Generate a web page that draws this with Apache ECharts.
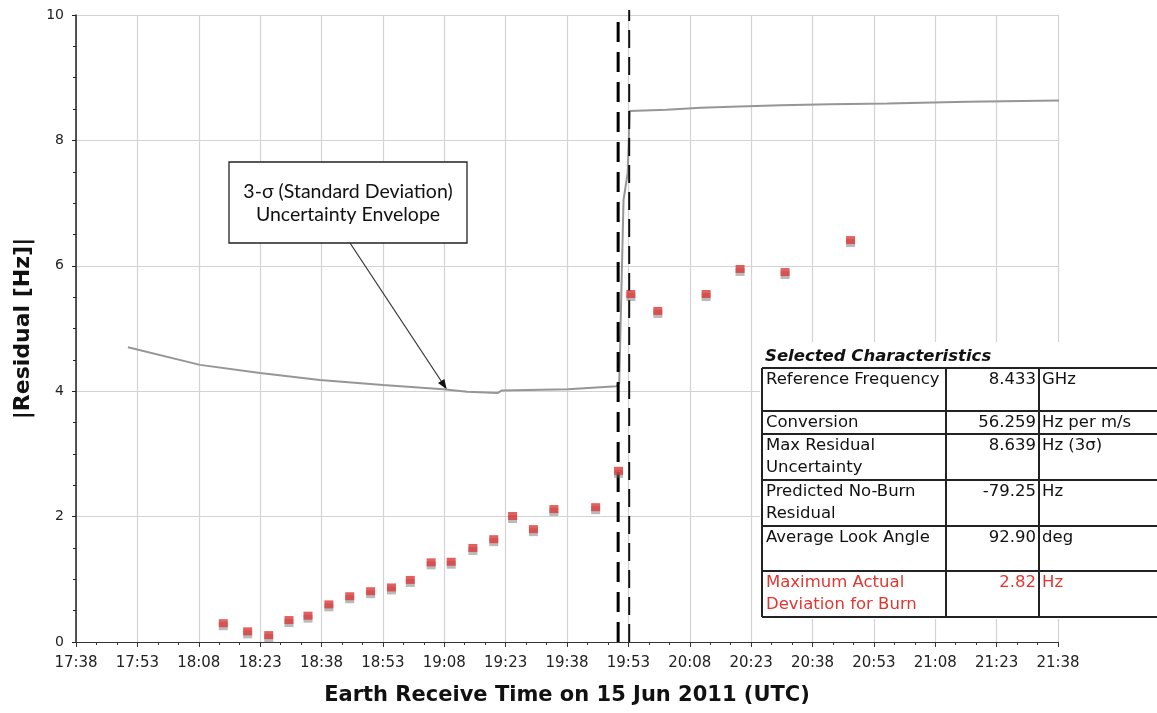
<!DOCTYPE html>
<html>
<head>
<meta charset="utf-8">
<script src="https://cdn.jsdelivr.net/npm/echarts@6/dist/echarts.min.js"></script>
<style>
  html, body { margin: 0; padding: 0; background: #fff; }
  #chart { width: 1157px; height: 713px; }
</style>
</head>
<body>
<div id="chart"></div>
<script>
// ---------- data ----------
const axisStart = '17:38';
const axisEnd = '21:38';
const tickStepMinutes = 15;
const yTicks = [0, 2, 4, 6, 8, 10];

// Doppler residual magnitude per tracking pass [Hz]
const residualTimes = [
  '18:14:00', '18:19:57', '18:25:06', '18:30:03', '18:34:42', '18:39:48',
  '18:44:54', '18:50:00', '18:55:06', '18:59:42', '19:04:48', '19:09:42',
  '19:15:00', '19:20:06', '19:24:42', '19:29:48', '19:34:48', '19:45:00',
  '19:50:36', '19:53:36', '20:00:12', '20:12:00', '20:20:18', '20:31:18',
  '20:47:18'
];
const residualValues = [
  0.30, 0.17, 0.11, 0.35, 0.42, 0.60,
  0.73, 0.81, 0.87, 0.99, 1.27, 1.28,
  1.50, 1.64, 2.01, 1.80, 2.12, 2.15,
  2.73, 5.55, 5.28, 5.55, 5.95, 5.90,
  6.41
];

// 3-sigma uncertainty envelope [Hz]
const envelopeTimes = [
  '17:50:42', '18:08:18', '18:23:00', '18:37:36', '18:53:00', '19:07:42',
  '19:13:36', '19:21:00', '19:22:00', '19:38:12', '19:50:06', '19:50:46',
  '19:51:49', '19:52:50', '19:53:19', '20:02:18', '20:10:42', '20:20:00',
  '20:30:12', '20:42:18', '20:56:18', '21:15:48', '21:39:06'
];
const envelopeValues = [
  4.70, 4.42, 4.29, 4.18, 4.10, 4.03,
  3.99, 3.97, 4.01, 4.03, 4.08, 4.13,
  7.05, 7.48, 8.47, 8.49, 8.52, 8.54,
  8.56, 8.575, 8.59, 8.617, 8.639
];

// burn start / end markers
const burnStartTime = '19:50:30';
const burnEndTime = '19:53:12';

const annotationLines = ['3-σ (Standard Deviation)', 'Uncertainty Envelope'];
const annotationTarget = ['19:08:36', 4.03];

const tableTitle = 'Selected Characteristics';
const tableLabels = [
  ['Reference Frequency'],
  ['Conversion'],
  ['Max Residual', 'Uncertainty'],
  ['Predicted No-Burn', 'Residual'],
  ['Average Look Angle'],
  ['Maximum Actual', 'Deviation for Burn']
];
const tableValues = ['8.433', '56.259', '8.639', '-79.25', '92.90', '2.82'];
const tableUnits = ['GHz', 'Hz per m/s', 'Hz (3σ)', 'Hz', 'deg', 'Hz'];
const highlightRow = 5;

// ---------- helpers ----------
function clockToMinutes(str) {
  const p = str.split(':').map(Number);
  return p[0] * 60 + p[1] + (p[2] || 0) / 60;
}
const baseMinutes = clockToMinutes(axisStart);
const spanMinutes = clockToMinutes(axisEnd) - baseMinutes;
function rel(str) { return clockToMinutes(str) - baseMinutes; }
function minutesToClock(m) {
  const total = Math.round(baseMinutes + m);
  const h = Math.floor(total / 60), mm = total % 60;
  return h + ':' + String(mm).padStart(2, '0');
}

const residualData = residualTimes.map((t, i) => [rel(t), residualValues[i]]);
const envelopeData = envelopeTimes.map((t, i) => [rel(t), envelopeValues[i]]);

const FONT = 'DejaVu Sans';
const chart = echarts.init(document.getElementById('chart'), null, { renderer: 'canvas' });

chart.setOption({
  animation: false,
  backgroundColor: '#ffffff',
  grid: { left: 76, right: 99, top: 15, bottom: 71, containLabel: false },
  xAxis: {
    type: 'value',
    min: 0,
    max: spanMinutes,
    interval: tickStepMinutes,
    name: 'Earth Receive Time on 15 Jun 2011 (UTC)',
    nameLocation: 'middle',
    nameGap: 43,
    nameTextStyle: { fontFamily: FONT, fontWeight: 'bold', fontSize: 21, color: '#111' },
    axisLine: { onZero: false, lineStyle: { color: '#333', width: 1.2 } },
    axisTick: { show: true, length: 5, lineStyle: { color: '#333' } },
    minorTick: { show: true, splitNumber: 3, length: 3, lineStyle: { color: '#333' } },
    axisLabel: {
      fontFamily: FONT, fontSize: 15, color: '#222', margin: 14,
      formatter: v => minutesToClock(v)
    },
    splitLine: { show: true, lineStyle: { color: '#d3d3d3', width: 1.2 } }
  },
  yAxis: {
    type: 'value',
    min: yTicks[0],
    max: yTicks[yTicks.length - 1],
    interval: yTicks[1] - yTicks[0],
    name: '|Residual [Hz]|',
    nameLocation: 'middle',
    nameRotate: 90,
    nameGap: 42,
    nameTextStyle: { fontFamily: FONT, fontWeight: 'bold', fontSize: 22, color: '#111' },
    axisLine: { show: true, lineStyle: { color: '#222', width: 1.5 } },
    axisTick: { show: true, length: 4, lineStyle: { color: '#222' } },
    minorTick: { show: true, splitNumber: 4, length: 3, lineStyle: { color: '#222' } },
    axisLabel: { fontFamily: FONT, fontSize: 14, color: '#222', margin: 12 },
    splitLine: { show: true, lineStyle: { color: '#d3d3d3', width: 1.2 } }
  },
  series: [
    {
      name: 'envelope',
      type: 'line',
      data: envelopeData,
      showSymbol: false,
      clip: false,
      lineStyle: { color: '#969696', width: 2 },
      z: 3
    },
    {
      name: 'burn start',
      type: 'line',
      data: [[rel(burnStartTime), 0], [rel(burnStartTime), 9.92]],
      showSymbol: false,
      clip: false,
      lineStyle: { color: '#000', width: 3, type: [20, 10] },
      z: 4
    },
    {
      name: 'burn end',
      type: 'line',
      data: [[rel(burnEndTime), 0], [rel(burnEndTime), 10.08]],
      showSymbol: false,
      clip: false,
      lineStyle: { color: '#111', width: 2, type: [18, 9] },
      z: 4
    },
    {
      name: 'residual',
      type: 'scatter',
      data: residualData,
      symbol: 'rect',
      symbolSize: [9, 8],
      itemStyle: {
        color: '#dc3838',
        shadowColor: 'rgba(110,110,110,0.6)',
        shadowOffsetY: 3,
        shadowBlur: 0
      },
      z: 5
    }
  ]
});

// ---------- annotation callout ----------
const tip = chart.convertToPixel({ gridIndex: 0 }, [rel(annotationTarget[0]), annotationTarget[1]]);
const box = { x: 229, y: 162, w: 238, h: 81 };
const tail = [350, box.y + box.h];
const dx = tip[0] - tail[0], dy = tip[1] - tail[1];
const len = Math.sqrt(dx * dx + dy * dy);
const ux = dx / len, uy = dy / len;
const headLen = 10, headHalf = 3.8;
const base = [tip[0] - ux * headLen, tip[1] - uy * headLen];

const graphics = [
  {
    type: 'rect', shape: { x: box.x, y: box.y, width: box.w, height: box.h },
    style: { fill: '#fff', stroke: '#222', lineWidth: 1.3 }, z: 100
  },
  {
    type: 'text', x: box.x + box.w / 2, y: box.y + 30, z: 101,
    style: { text: annotationLines[0], font: '19.5px Lato', fill: '#111', textAlign: 'center', textVerticalAlign: 'middle' }
  },
  {
    type: 'text', x: box.x + box.w / 2, y: box.y + 53, z: 101,
    style: { text: annotationLines[1], font: '19.5px Lato', fill: '#111', textAlign: 'center', textVerticalAlign: 'middle' }
  },
  {
    type: 'line', shape: { x1: tail[0], y1: tail[1], x2: base[0], y2: base[1] },
    style: { stroke: '#333', lineWidth: 1.2 }, z: 100
  },
  {
    type: 'polygon', z: 100,
    shape: { points: [tip, [base[0] - uy * headHalf, base[1] + ux * headHalf], [base[0] + uy * headHalf, base[1] - ux * headHalf]] },
    style: { fill: '#111' }
  }
];

// ---------- characteristics table ----------
const rowEdges = [368, 411, 434, 480, 526, 571, 617];
const colEdges = [762, 946, 1039, 1160];
const lineStep = 22;

graphics.push({
  type: 'rect', shape: { x: 760, y: 342, width: 400, height: 277 },
  style: { fill: '#fff' }, z: 90
});
graphics.push({
  type: 'text', x: 765, y: 357, z: 95,
  style: { text: tableTitle, font: 'italic bold 16.5px "DejaVu Sans"', fill: '#111', textVerticalAlign: 'middle' }
});
rowEdges.forEach(y => {
  graphics.push({ type: 'line', z: 95, shape: { x1: colEdges[0], y1: y, x2: colEdges[3], y2: y }, style: { stroke: '#222', lineWidth: 2 } });
});
colEdges.slice(0, 3).forEach(x => {
  graphics.push({ type: 'line', z: 95, shape: { x1: x, y1: rowEdges[0], x2: x, y2: rowEdges[rowEdges.length - 1] }, style: { stroke: '#222', lineWidth: 2 } });
});
tableLabels.forEach((lines, r) => {
  const color = r === highlightRow ? '#e5352f' : '#111';
  const top = rowEdges[r] + 12;
  lines.forEach((ln, k) => {
    graphics.push({
      type: 'text', x: colEdges[0] + 4, y: top + k * lineStep, z: 96,
      style: { text: ln, font: '16.5px "DejaVu Sans"', fill: color, textVerticalAlign: 'middle' }
    });
  });
  graphics.push({
    type: 'text', x: colEdges[2] - 3, y: top, z: 96,
    style: { text: tableValues[r], font: '16.5px "DejaVu Sans"', fill: color, textAlign: 'right', textVerticalAlign: 'middle' }
  });
  graphics.push({
    type: 'text', x: colEdges[2] + 3, y: top, z: 96,
    style: { text: tableUnits[r], font: '16.5px "DejaVu Sans"', fill: color, textVerticalAlign: 'middle' }
  });
});

chart.setOption({ graphic: graphics });
</script>
</body>
</html>
